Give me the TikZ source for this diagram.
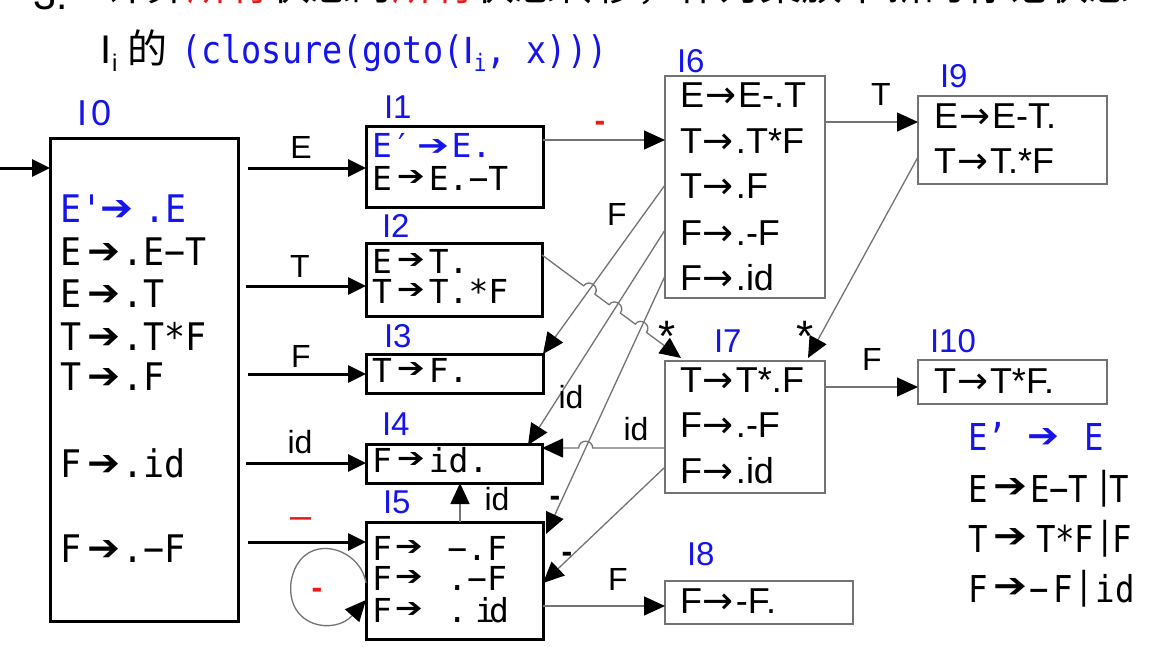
\documentclass[tikz,border=0pt]{standalone}
\usepackage{graphicx}
\usepackage{fontspec}
\setmainfont{Liberation Sans}
\newfontfamily\cjk{Noto Sans CJK SC}
\newfontfamily\dvs{DejaVu Sans}
\newfontfamily\mA[FakeStretch=0.92]{DejaVu Sans Mono}
\newfontfamily\mB{DejaVu Sans Mono}
\newfontfamily\mG[FakeStretch=0.875]{DejaVu Sans Mono}
\newfontfamily\mT[FakeStretch=0.88]{DejaVu Sans Mono}
\usetikzlibrary{arrows.meta,calc,intersections}
\definecolor{lblue}{RGB}{20,20,235}
\definecolor{lred}{RGB}{235,25,25}
\definecolor{lgray}{RGB}{115,115,115}
% heavy arrow: kern before, glyph width, glyph height, kern after, raise
\newcommand\harr[5]{\kern#1\raisebox{#5}{\resizebox{#2}{#3}{\dvs ➔}}\kern#4\relax}
\newcommand\HA{\harr{6pt}{33pt}{20pt}{2pt}{2pt}}
\newcommand\HB{\harr{5pt}{28pt}{15pt}{4pt}{5pt}}
\newcommand\HC{\harr{3pt}{28pt}{15pt}{4.6pt}{5pt}}
% thin arrow
\newcommand\sarr{\kern1pt\resizebox{31pt}{!}{\dvs →}\kern2pt\relax}
\tikzset{
  txt/.style={anchor=base west, inner sep=0pt, outer sep=0pt},
  lab/.style={anchor=base, inner sep=0pt, outer sep=0pt, font=\fontsize{32}{32}\selectfont},
  ilab/.style={anchor=base west, inner sep=0pt, outer sep=0pt, text=lblue, font=\fontsize{33}{33}\selectfont},
  fa/.style={txt, font=\mA\fontsize{38}{38}\selectfont},
  fb/.style={txt, font=\mB\fontsize{33}{33}\selectfont},
  fs/.style={txt, font=\fontsize{36}{36}\selectfont},
  fg/.style={txt, font=\mG\fontsize{37}{37}\selectfont},
  kbox/.style={draw=black, line width=3pt, inner sep=0pt, outer sep=0pt, anchor=north west},
  gbox/.style={draw=lgray, line width=1.4pt, inner sep=0pt, outer sep=0pt, anchor=north west},
  tkarr/.style={draw=black, line width=3pt, -{Triangle[length=18pt,width=17pt]}},
  tnarr/.style={draw=lgray, line width=1.3pt, -{Triangle[length=21pt,width=19pt,color=black]}},
}
\begin{document}
\begin{tikzpicture}[x=1pt,y=-1pt]
\useasboundingbox (0,0) rectangle (1173,646);
\clip (0,0) rectangle (1173,646);
\fill[white] (0,0) rectangle (1173,646);

% ---- title (first line cut by the top edge)
\node[txt, font=\fontsize{41}{41}\selectfont] (t3) at (34,9) {3.};
\node[txt, font=\cjk\fontsize{41}{41}\selectfont] (t1) at (105,0)
  {计算{\color{lred}所有}状态的{\color{lred}所有}状态转移，作为集族中新的标记状态};
\node[txt] (t2) at (100,63) {{\fontsize{40}{40}\selectfont I}\kern1pt\raisebox{-8pt}{\fontsize{24}{24}\selectfont i}\kern10pt{\cjk\fontsize{40}{40}\selectfont 的}\kern14pt{\color{lblue}\mT\fontsize{38}{38}\selectfont (closure(goto({\rmfamily I}\raisebox{-8pt}{\fontsize{24}{24}\selectfont i}, x)))}};

% ---- boxes
\node[kbox, minimum width=188pt, minimum height=483pt] (I0) at (50,138) {};
\node[kbox, minimum width=177pt, minimum height=81pt] (I1) at (366,126) {};
\node[kbox, minimum width=176pt, minimum height=73pt] (I2) at (366,243) {};
\node[kbox, minimum width=177pt, minimum height=39pt] (I3) at (366,354) {};
\node[kbox, minimum width=176pt, minimum height=39pt] (I4) at (366,444) {};
\node[kbox, minimum width=177pt, minimum height=117pt] (I5) at (366,522) {};
\node[gbox, minimum width=160pt, minimum height=222pt] (I6) at (665,76) {};
\node[gbox, minimum width=189pt, minimum height=88pt] (I9) at (918,96) {};
\node[gbox, minimum width=160pt, minimum height=132pt] (I7) at (665,361) {};
\node[gbox, minimum width=189pt, minimum height=44pt] (I10) at (918,360) {};
\node[gbox, minimum width=188pt, minimum height=43pt] (I8) at (665,581) {};

% ---- box labels
\node[ilab, font=\fontsize{36}{36}\selectfont] (n0) at (77,125) {I\kern4pt 0};
\node[ilab] (n1) at (384,118) {I1};
\node[ilab] (n2) at (382,237) {I2};
\node[ilab] (n3) at (384,347) {I3};
\node[ilab] (n4) at (382,435) {I4};
\node[ilab] (n5) at (383,513) {I5};
\node[ilab] (n6) at (677,72) {I6};
\node[ilab] (n9) at (940,87) {I9};
\node[ilab] (n7) at (714,352) {I7};
\node[ilab] (n10) at (930,352) {I10};
\node[ilab] (n8) at (687,565) {I8};

% ---- I0 items
\node[fa, text=lblue] (r0a) at (60,222) {E'\harr{-2pt}{33pt}{20pt}{11pt}{2pt}.E};
\node[fa] (r0b) at (60,265) {E\HA.E−T};
\node[fa] (r0c) at (60,307) {E\HA.T};
\node[fa] (r0d) at (60,350) {T\HA.T*F};
\node[fa] (r0e) at (60,390) {T\HA.F};
\node[fa] (r0f) at (60,477) {F\HA.id};
\node[fa] (r0g) at (60,562) {F\HA.−F};

% ---- I1..I5 items
\node[fb, text=lblue] (r1a) at (372,157) {E′\harr{6pt}{32pt}{16pt}{2pt}{2pt}E.};
\node[fb] (r1b) at (372,190) {E\HB E.−T};
\node[fb] (r2a) at (372,273) {E\HB T.};
\node[fb] (r2b) at (372,303) {T\HB T.*F};
\node[fb] (r3a) at (372,382) {T\HB F.};
\node[fb] (r4a) at (372,472) {F\HB id.};
\node[fb] (r5a) at (372,560) {F\HC\ −.F};
\node[fb] (r5b) at (372,590) {F\HC\ .−F};
\node[fb] (r5c) at (372,622) {F\HC\ .\kern8pt i\kern-6pt d};

% ---- I6..I10 items
\node[fs] (r6a) at (680,107) {E\sarr E-.T};
\node[fs] (r6b) at (680,153) {T\sarr .T*F};
\node[fs] (r6c) at (680,198) {T\sarr .F};
\node[fs] (r6d) at (680,245) {F\sarr .-F};
\node[fs] (r6e) at (680,290) {F\sarr .id};
\node[fs] (r9a) at (934,128) {E\sarr E-T.};
\node[fs] (r9b) at (934,173) {T\sarr T.*F};
\node[fs] (r7a) at (680,392) {T\sarr T*.F};
\node[fs] (r7b) at (680,437) {F\sarr .-F};
\node[fs] (r7c) at (680,483) {F\sarr .id};
\node[fs] (r10a) at (934,393) {T\sarr T*F.};
\node[fs] (r8a) at (680,613) {F\sarr -F.};

% ---- grammar
\node[fg, text=lblue] (g0) at (968,450) {E’\harr{21pt}{32pt}{19pt}{25pt}{3pt}E};
\node[fg] (g1) at (968,502) {E\harr{5.5pt}{34pt}{19pt}{3pt}{5pt}E−T\kern6.25pt\raisebox{3.5pt}{|}\kern-4.25pt T};
\node[fg] (g2) at (968,552) {T\harr{5.5pt}{34pt}{19pt}{9pt}{5pt}T*F\kern0.75pt\raisebox{3.5pt}{|}\kern-1.75pt F};
\node[fg] (g3) at (968,602) {F\harr{5.5pt}{34pt}{19pt}{2.25pt}{5pt}−\kern5pt F\kern1.5pt\raisebox{4pt}{|}\kern1.5pt id};

% ---- thick arrows from I0
\coordinate (ent) at (0,168);
\draw[tkarr] (ent) -- (ent -| I0.west);
\coordinate (o1) at (248,168);
\coordinate (o2) at (246,286);
\coordinate (o3) at (248,374);
\coordinate (o4) at (246,463);
\coordinate (o5) at (248,542);
\draw[tkarr] (o1) -- (o1 -| I1.west);
\draw[tkarr] (o2) -- (o2 -| I2.west);
\draw[tkarr] (o3) -- (o3 -| I3.west);
\draw[tkarr] (o4) -- (o4 -| I4.west);
\draw[tkarr] (o5) -- (o5 -| I5.west);

% ---- thin arrows
\draw[tnarr] (I1.east |- 0,140) -- (I6.west |- 0,140);
\draw[tnarr] (I6.east |- 0,122) -- (I9.west |- 0,122);
\draw[tnarr] (I7.east |- 0,387) -- (I10.west |- 0,387);
\draw[tnarr] (I5.east |- 0,606) -- (I8.west |- 0,606);
\draw[tnarr] (I5.north -| 460,0) -- (I4.south -| 460,0);
\draw[tnarr] (I7.west |- 0,467) -- (I5.east |- 0,583);
\draw[tnarr] (I9.west |- 0,157) -- ($(I7.north east)+(-17,-3)$);
\draw[tnarr, name path=pA] (I6.west |- 0,185) -- (I3.north east);
\draw[tnarr, name path=pB] (I6.west |- 0,230) -- ($(I4.north east)+(-14,1)$);
\draw[tnarr, name path=pC] (I6.west |- 0,276) -- ($(I5.north east)+(3,12)$);

% I2 -> I7 with line jumps
\coordinate (Ls) at (I2.east |- 0,255);
\coordinate (Le) at ($(I7.north west)+(16,-3)$);
\path[name path=pL] (Ls) -- (Le);
\path[name intersections={of=pL and pA, by=xa}];
\path[name intersections={of=pL and pB, by=xb}];
\path[name intersections={of=pL and pC, by=xc}];
\coordinate (xa1) at ($(xa)!7pt!(Ls)$); \coordinate (xa2) at ($(xa)!7pt!(Le)$);
\coordinate (xb1) at ($(xb)!7pt!(Ls)$); \coordinate (xb2) at ($(xb)!7pt!(Le)$);
\coordinate (xc1) at ($(xc)!7pt!(Ls)$); \coordinate (xc2) at ($(xc)!7pt!(Le)$);
\draw[tnarr] (Ls) -- (xa1)
  .. controls ($(xa1)!9pt!90:(xa2)$) and ($(xa2)!9pt!-90:(xa1)$) .. (xa2) -- (xb1)
  .. controls ($(xb1)!9pt!90:(xb2)$) and ($(xb2)!9pt!-90:(xb1)$) .. (xb2) -- (xc1)
  .. controls ($(xc1)!9pt!90:(xc2)$) and ($(xc2)!9pt!-90:(xc1)$) .. (xc2) -- (Le);

% I7 -> I4 with a jump
\coordinate (Hs) at (I7.west |- 0,448);
\coordinate (He) at (I4.east |- 0,448);
\path[name path=pH] (Hs) -- (He);
\path[name intersections={of=pH and pC, by=xh}];
\coordinate (xh1) at ($(xh)!7pt!(Hs)$); \coordinate (xh2) at ($(xh)!7pt!(He)$);
\draw[tnarr] (Hs) -- (xh1)
  .. controls ($(xh1)!9pt!-90:(xh2)$) and ($(xh2)!9pt!90:(xh1)$) .. (xh2) -- (He);

% self loop on I5
\draw[tnarr] (I5.west |- 0,583) .. controls (360,545) and (300,530) .. (291,582)
  .. controls (286,628) and (335,635) .. (I5.west |- 0,600);

% ---- connector labels
\node[lab] (lE) at (301,158) {E};
\node[lab] (lT) at (300,277) {T};
\node[lab] (lF) at (301,367) {F};
\node[lab] (lid) at (300,453) {id};
\node[lab, text=lred, font=\fontsize{38}{38}\selectfont] (lm0) at (301,528) {–};
\node[lab, text=lred, font=\bfseries\fontsize{32}{32}\selectfont] (lm1) at (600,131) {-};
\node[lab, text=lred, font=\bfseries\fontsize{32}{32}\selectfont] (lm4) at (317,598) {-};
\node[lab] (lT2) at (881,105) {T};
\node[lab] (lF2) at (617,225) {F};
\node[lab] (lid2) at (571,408) {id};
\node[lab] (lid3) at (636,440) {id};
\node[lab] (lid4) at (497,510) {id};
\node[lab, font=\bfseries\fontsize{32}{32}\selectfont] (lm2) at (555,506) {-};
\node[lab, font=\bfseries\fontsize{32}{32}\selectfont] (lm3) at (567,562) {-};
\node[lab, font=\fontsize{44}{44}\selectfont] (ls1) at (667,351) {*};
\node[lab, font=\fontsize{44}{44}\selectfont] (ls2) at (805,351) {*};
\node[lab] (lF3) at (872,370) {F};
\node[lab] (lF4) at (618,590) {F};
\end{tikzpicture}
\end{document}
